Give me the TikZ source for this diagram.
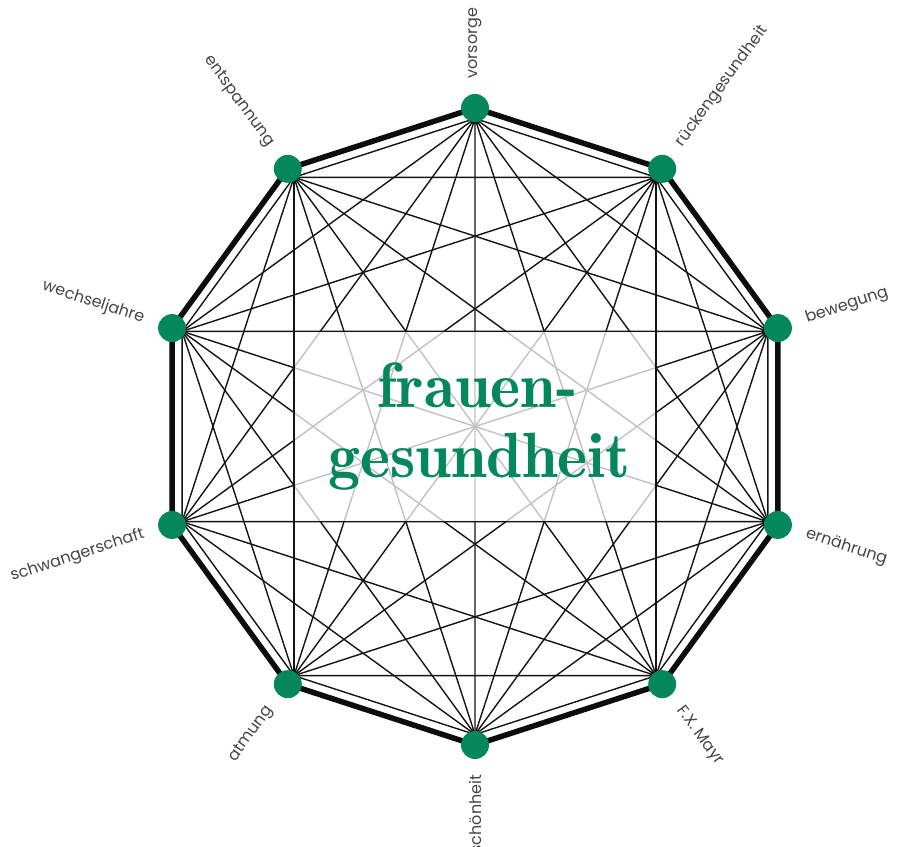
\documentclass[tikz,border=0pt]{standalone}
\usepackage{fontspec}
\usetikzlibrary{positioning}
\newfontfamily\lblfont{Poppins}
\newfontfamily\titlefont{lmromandemi10-regular.otf}
\definecolor{fgreen}{HTML}{05875C}
\definecolor{lblgray}{HTML}{454545}

\begin{document}
\begin{tikzpicture}[x=1pt,y=1pt]
		\tikzstyle{every node}+=[inner sep=0pt]
		\tikzstyle{dot}=[circle,fill=fgreen,minimum size=28pt]
		\tikzstyle{edge}=[black!92,line width=1.4pt]
		\tikzstyle{rim}=[black!95,line width=5.5pt,line join=miter]
		\tikzstyle{lbl}=[font=\lblfont\fontsize{16}{16}\selectfont,text=lblgray]
		\tikzstyle{title}=[font=\titlefont\fontsize{64}{70}\selectfont,text=fgreen]
		\useasboundingbox (-475,-419.5) rectangle (437,426.5);
		% inner corners, where the thin lines meet
		\coordinate (vs) at (90:308);
		\coordinate (rg) at (54:308);
		\coordinate (bw) at (18:308);
		\coordinate (ea) at (-18:308);
		\coordinate (fx) at (-54:308);
		\coordinate (sh) at (-90:308);
		\coordinate (at) at (-126:308);
		\coordinate (sw) at (-162:308);
		\coordinate (wj) at (162:308);
		\coordinate (es) at (126:308);
		% every corner to every other
		\draw [edge] (vs) -- (rg) (vs) -- (bw) (vs) -- (ea) (vs) -- (fx) (vs) -- (sh) (vs) -- (at) (vs) -- (sw) (vs) -- (wj) (vs) -- (es);
		\draw [edge] (rg) -- (bw) (rg) -- (ea) (rg) -- (fx) (rg) -- (sh) (rg) -- (at) (rg) -- (sw) (rg) -- (wj) (rg) -- (es);
		\draw [edge] (bw) -- (ea) (bw) -- (fx) (bw) -- (sh) (bw) -- (at) (bw) -- (sw) (bw) -- (wj) (bw) -- (es);
		\draw [edge] (ea) -- (fx) (ea) -- (sh) (ea) -- (at) (ea) -- (sw) (ea) -- (wj) (ea) -- (es);
		\draw [edge] (fx) -- (sh) (fx) -- (at) (fx) -- (sw) (fx) -- (wj) (fx) -- (es);
		\draw [edge] (sh) -- (at) (sh) -- (sw) (sh) -- (wj) (sh) -- (es);
		\draw [edge] (at) -- (sw) (at) -- (wj) (at) -- (es);
		\draw [edge] (sw) -- (wj) (sw) -- (es);
		\draw [edge] (wj) -- (es);
		% pale box behind the title
		\fill [white,opacity=0.74] (es |- wj) rectangle (rg |- sw);
		\draw [edge] (wj) -- (bw) (sw) -- (ea) (es) -- (at) (rg) -- (fx);
		% the thick rim
		\draw [rim] (90:318.5) -- (54:318.5) -- (18:318.5) -- (-18:318.5) -- (-54:318.5) -- (-90:318.5) -- (-126:318.5) -- (-162:318.5) -- (162:318.5) -- (126:318.5) -- cycle;
		\node [dot] (vs-dot) at (90:318.5) {};
		\node [dot] (rg-dot) at (54:318.5) {};
		\node [dot] (bw-dot) at (18:318.5) {};
		\node [dot] (ea-dot) at (-18:318.5) {};
		\node [dot] (fx-dot) at (-54:318.5) {};
		\node [dot] (sh-dot) at (-90:318.5) {};
		\node [dot] (at-dot) at (-126:318.5) {};
		\node [dot] (sw-dot) at (-162:318.5) {};
		\node [dot] (wj-dot) at (162:318.5) {};
		\node [dot] (es-dot) at (126:318.5) {};
		% labels
		\node [lbl,rotate=90,anchor=west] (vs-lbl) at (90:348) {vorsorge};
		\node [lbl,rotate=54,anchor=west] (rg-lbl) at (54:348) {rückengesundheit};
		\node [lbl,rotate=18,anchor=west] (bw-lbl) at (18:348) {bewegung};
		\node [lbl,rotate=-18,anchor=west] (ea-lbl) at (-18:348) {ernährung};
		\node [lbl,rotate=-54,anchor=west] (fx-lbl) at (-54:348) {F.X. Mayr};
		\node [lbl,rotate=90,anchor=east] (sh-lbl) at (-90:348) {schönheit};
		\node [lbl,rotate=54,anchor=east] (at-lbl) at (-126:348) {atmung};
		\node [lbl,rotate=18,anchor=east] (sw-lbl) at (-162:348) {schwangerschaft};
		\node [lbl,rotate=-18,anchor=east] (wj-lbl) at (162:348) {wechseljahre};
		\node [lbl,rotate=-54,anchor=east] (es-lbl) at (126:348) {entspannung};
		% title
		\node [title,anchor=base] (title-top) at (2.5,19.5) {frauen-};
		\node [title,anchor=base] (title-bot) at (4.5,-50.5) {gesundheit};
\end{tikzpicture}
\end{document}
